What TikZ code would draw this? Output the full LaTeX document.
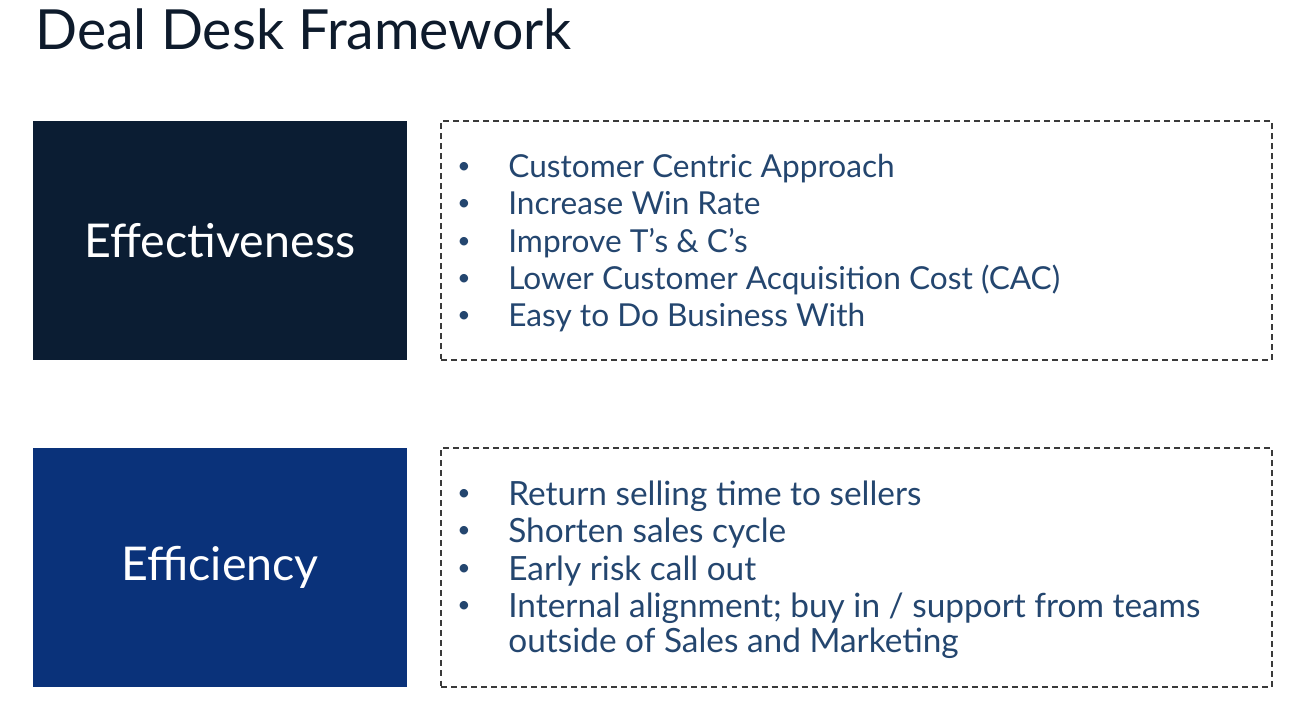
\documentclass[tikz,border=0pt]{standalone}
\usepackage{fontspec}
\setmainfont{Lato}
\usepackage{xcolor}
\usepackage{tikz}
\usetikzlibrary{positioning}
\definecolor{headnavy}{HTML}{0E1B2C}
\definecolor{darknavy}{HTML}{0B1D33}
\definecolor{royalblue}{HTML}{0A327A}
\definecolor{itemblue}{HTML}{24466F}
\definecolor{dashgray}{HTML}{3A3A3A}

\begin{document}
\begin{tikzpicture}[
  x=0.02cm, y=-0.02cm,
  pillar/.style={draw=none, minimum width=7.48cm, minimum height=4.78cm, text=white, font=\fontsize{26.5}{31}\selectfont},
  panel/.style={draw=dashgray, line width=0.8pt, dash pattern=on 3.4pt off 2.3pt, minimum width=16.62cm, minimum height=4.78cm},
  row/.style={anchor=base west, text=itemblue, font=\fontsize{18}{21}\selectfont, inner sep=0pt},
  widerow/.style={row, font=\fontsize{19}{22}\selectfont},
  dot/.style={anchor=center, text=itemblue, font=\fontsize{13}{15}\selectfont, inner sep=0pt},
]
  \useasboundingbox (0,0) rectangle (1297,705);

  % Title
  \node[anchor=base west, inner sep=0pt, text=headnavy, font=\fontsize{31.5}{38}\selectfont] (title) at (35,50) {Deal Desk Framework};

  % Effectiveness
  \node[pillar, fill=darknavy] (effect) at (220,240.5) {Effectiveness};
  \node[panel] (effectpanel) at (856.5,240.5) {};
  \node[dot] (eb1) at (464,168) {\textbullet};
  \node[dot] (eb2) at (464,205) {\textbullet};
  \node[dot] (eb3) at (464,243) {\textbullet};
  \node[dot] (eb4) at (464,280) {\textbullet};
  \node[dot] (eb5) at (464,317) {\textbullet};
  \node[row] (er1) at (508,178) {Customer Centric Approach};
  \node[row] (er2) at (508,215) {Increase Win Rate};
  \node[row] (er3) at (508,253) {Improve T’s \& C’s};
  \node[row] (er4) at (508,290) {Lower Customer Acquisition Cost (CAC)};
  \node[row] (er5) at (508,327) {Easy to Do Business With};

  % Efficiency
  \node[pillar, fill=royalblue] (effic) at (220,567.5) {Efficiency};
  \node[panel] (efficpanel) at (856.5,567.5) {};
  \node[dot] (fb1) at (464,495) {\textbullet};
  \node[dot] (fb2) at (464,532) {\textbullet};
  \node[dot] (fb3) at (464,570) {\textbullet};
  \node[dot] (fb4) at (464,607) {\textbullet};
  \node[widerow] (fr1) at (508,505) {Return selling time to sellers};
  \node[widerow] (fr2) at (508,542) {Shorten sales cycle};
  \node[widerow] (fr3) at (508,580) {Early risk call out};
  \node[widerow] (fr4) at (508,617) {Internal alignment; buy in / support from teams};
  \node[widerow] (fr5) at (508,652) {outside of Sales and Marketing};

\end{tikzpicture}
\end{document}
